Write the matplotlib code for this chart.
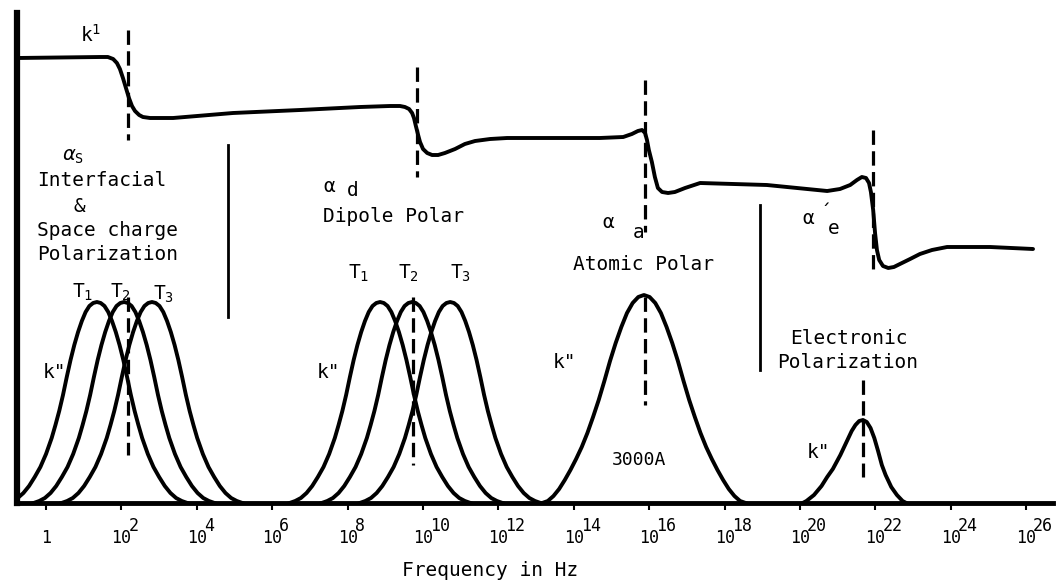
import numpy as np
import matplotlib
matplotlib.use("Agg")
import matplotlib.pyplot as plt
import matplotlib.transforms as mtransforms

plt.rcParams['font.family'] = ['DejaVu Sans Mono', 'DejaVu Sans']

# frequency axis is log10(f / Hz), response is in arbitrary height units
tick_exps = [0, 2, 4, 6, 8, 10, 12, 14, 16, 18, 20, 22, 24, 26]

# real part k' (top step curve)
kp_logf = [-0.77, 1.43, 1.64, 1.78, 1.88, 1.96, 2.04, 2.12, 2.20, 2.28,
           2.36, 2.47, 2.57, 2.76, 3.37, 4.96, 6.74, 8.33, 9.12, 9.39,
           9.52, 9.63, 9.71, 9.76, 9.81, 9.87, 9.92, 10.00, 10.11, 10.24,
           10.40, 10.58, 10.85, 11.11, 11.38, 11.78, 12.23, 13.63, 14.69, 15.31,
           15.54, 15.70, 15.81, 15.89, 15.94, 15.99, 16.07, 16.15, 16.23, 16.34,
           16.50, 16.68, 16.95, 17.35, 19.12, 20.72, 21.06, 21.33, 21.51, 21.64,
           21.75, 21.83, 21.88, 21.94, 21.99, 22.04, 22.10, 22.20, 22.34, 22.49,
           22.65, 22.92, 23.18, 23.50, 23.90, 25.04, 26.18]
kp_val = [445, 446, 446, 444, 440, 434, 425, 415, 405, 397,
          392, 388, 386, 385, 385, 390, 393, 396, 397, 397,
          396, 394, 390, 385, 377, 368, 361, 354, 350, 348,
          348, 350, 354, 359, 362, 364, 365, 365, 365, 366,
          369, 372, 373, 370, 363, 353, 341, 326, 315, 311,
          310, 311, 315, 320, 318, 312, 314, 318, 323, 326,
          325, 320, 311, 293, 270, 253, 243, 237, 235, 236,
          239, 244, 249, 253, 256, 256, 254]

# loss peak k'' shape for relaxation processes (offset in decades, height)
relax_off = [0, 0.1, 0.2, 0.3, 0.4, 0.5, 0.6, 0.7, 0.8, 0.9, 1.0,
             1.1, 1.2, 1.35, 1.5, 1.65, 1.8, 1.95, 2.1, 2.25, 2.4]
relax_h = [201, 200, 197, 191, 182, 171, 158, 143, 126, 108, 92,
           78, 65, 49, 36, 26, 17, 10, 5, 2, 0]
space_centres = [1.35, 2.07, 2.81]
dipole_centres = [8.86, 9.71, 10.72]

# atomic resonance peak
atomic_centre = 15.86
atomic_off = [0, 0.15, 0.3, 0.45, 0.6, 0.75, 0.9, 1.05, 1.2, 1.35,
              1.5, 1.65, 1.8, 1.95, 2.1, 2.25, 2.4, 2.55, 2.7]
atomic_h = [208, 206, 200, 190, 176, 160, 142, 122, 103, 86,
            70, 56, 44, 33, 23, 14, 7, 2, 0]

# electronic resonance peak (left and right flanks)
elec_centre = 21.67
elec_left_off = [0, 0.1, 0.2, 0.3, 0.45, 0.6, 0.8, 0.95, 1.1, 1.3, 1.5, 1.6]
elec_left_h = [83, 82, 78, 72, 60, 48, 34, 26, 17, 8, 2, 0]
elec_right_off = [0, 0.1, 0.2, 0.3, 0.4, 0.5, 0.6, 0.75, 0.9, 1.05, 1.15]
elec_right_h = [83, 81, 75, 65, 52, 38, 28, 16, 8, 2, 0]

# dashed markers at the relaxation / resonance frequencies: (logf, h_top, h_bottom)
dashed_lines = [(2.18, 473, 363), (2.18, 206, 48),
                (9.84, 436, 326), (9.73, 206, 38),
                (15.89, 423, 271), (15.89, 206, 98),
                (21.94, 373, 228), (21.67, 123, 26)]
# solid separators between regions
solid_lines = [(4.83, 358, 186), (18.94, 298, 133)]


def peak(centre, off_l, h_l, off_r=None, h_r=None):
    if off_r is None:
        off_r, h_r = off_l, h_l
    x = np.concatenate([centre - np.array(off_l[::-1]), centre + np.array(off_r[1:])])
    y = np.concatenate([np.array(h_l[::-1]), np.array(h_r[1:])])
    return x, y


fig = plt.figure(figsize=(10.6, 5.82), dpi=100)
ax = fig.add_axes([17 / 1060, 1 - 503 / 582, 1036 / 1060, 490 / 582])

lw = 2.8
ax.plot(kp_logf, kp_val, color='black', lw=lw, solid_joinstyle='round', solid_capstyle='round')
for c in space_centres + dipole_centres:
    x, y = peak(c, relax_off, relax_h)
    ax.plot(x, y, color='black', lw=lw, solid_joinstyle='round')
x, y = peak(atomic_centre, atomic_off, atomic_h)
ax.plot(x, y, color='black', lw=lw, solid_joinstyle='round')
x, y = peak(elec_centre, elec_left_off, elec_left_h, elec_right_off, elec_right_h)
ax.plot(x, y, color='black', lw=lw, solid_joinstyle='round')

for xv, h0, h1 in dashed_lines:
    ax.plot([xv, xv], [h0, h1], color='black', lw=2.3, ls=(0, (4.5, 2)))
for xv, h0, h1 in solid_lines:
    ax.plot([xv, xv], [h0, h1], color='black', lw=2.0)

ax.set_xlim(-0.77, 26.71)
ax.set_ylim(0, 490)
for s in ['top', 'right']:
    ax.spines[s].set_visible(False)
ax.spines['left'].set_linewidth(4.5)
ax.spines['bottom'].set_linewidth(3.5)
ax.set_yticks([])
ax.set_xticks(tick_exps)
ax.set_xticklabels([])
ax.tick_params(axis='x', direction='out', length=5, width=1.5)

# tick labels drawn as typewriter style "10" plus raised exponent
trans = ax.get_xaxis_transform()
sup = mtransforms.offset_copy(trans, fig=fig, x=5, y=0, units='points')
for e in tick_exps:
    if e == 0:
        ax.text(e, -0.0714, '1', transform=trans, ha='center', va='center', fontsize=12)
        continue
    ax.text(e, -0.0714, '10', transform=trans, ha='center', va='center', fontsize=12)
    ax.text(e, -0.046, str(e), transform=sup, ha='left', va='center', fontsize=12)

ax.set_xlabel('Frequency in Hz', fontsize=14)
ax.xaxis.set_label_coords((490 - 17) / 1036, -0.137)
ax.xaxis.label.set_va('center')

fs = 14
texts = [
    (r'$\mathtt{k^1}$', 0.90, 468, fs, 'left'),
    (r'$\alpha_{\mathtt{S}}$', 0.42, 347, fs, 'left'),
    ('Interfacial', -0.24, 323, fs, 'left'),
    ('&', 0.72, 296, fs, 'left'),
    ('Space charge', -0.24, 272, fs, 'left'),
    ('Polarization', -0.24, 249, fs, 'left'),
    (r'$\mathtt{T_1}$', 0.69, 211, fs, 'left'),
    (r'$\mathtt{T_2}$', 1.70, 211, fs, 'left'),
    (r'$\mathtt{T_3}$', 2.84, 209, fs, 'left'),
    ('k"', -0.08, 130, fs, 'left'),
    ('α', 7.35, 317, fs, 'left'),
    ('d', 7.98, 312, fs, 'left'),
    ('Dipole Polar', 7.35, 286, fs, 'left'),
    (r'$\mathtt{T_1}$', 8.01, 230, fs, 'left'),
    (r'$\mathtt{T_2}$', 9.34, 230, fs, 'left'),
    (r'$\mathtt{T_3}$', 10.72, 230, fs, 'left'),
    ('k"', 7.19, 130, fs, 'left'),
    ('α', 14.77, 280, fs, 'left'),
    ('a', 15.57, 271, fs, 'left'),
    ('Atomic Polar', 13.98, 238, fs, 'left'),
    ('k"', 13.45, 141, fs, 'left'),
    ('3000A', 15.01, 43, 13, 'left'),
    ('α', 20.05, 285, fs, 'left'),
    ('´', 20.52, 290, fs, 'left'),
    ('e', 20.74, 274, fs, 'left'),
    ('Electronic', 21.30, 164, fs, 'center'),
    ('Polarization', 21.27, 141, fs, 'center'),
    ('k"', 20.19, 51, fs, 'left'),
]
for t, xv, yv, size, ha in texts:
    ax.text(xv, yv, t, fontsize=size, ha=ha, va='center')

fig.savefig('out.png', dpi=100)
